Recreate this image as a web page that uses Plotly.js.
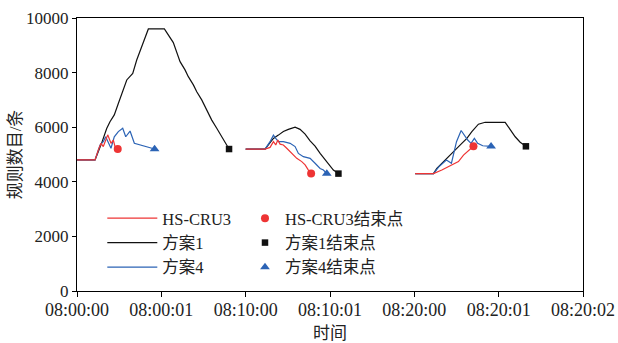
<!DOCTYPE html>
<html>
<head>
<meta charset="utf-8">
<script src="https://cdn.plot.ly/plotly-3.0.1.min.js"></script>
<style>html,body{margin:0;padding:0;background:#fff;}#chart{width:618px;height:343px;}</style>
</head>
<body>
<div id="chart"></div>
<script>
// x positions in tick-units (0 = 08:00:00 ... 6 = 08:20:02); null breaks segments
const tickLabels = ["08:00:00", "08:00:01", "08:10:00", "08:10:01", "08:20:00", "08:20:01", "08:20:02"];
const tickPos = [0, 1, 2, 3, 4, 5, 6];

const hsX = [0, 0.214, 0.253, 0.285, 0.312, 0.364, 0.403, 0.431, 0.451, 0.483, null,
  2.0, 2.23, 2.289, 2.329, 2.357, 2.381, 2.408, 2.447, 2.487, 2.547, 2.606, 2.665, 2.705, 2.744, 2.776, null,
  4.01, 4.227, 4.326, 4.444, 4.523, 4.583, 4.642, 4.701];
const hsY = [4800, 4800, 5170, 5410, 5290, 5720, 5410, 5530, 5290, 5200, null,
  5200, 5200, 5260, 5470, 5350, 5530, 5380, 5350, 5230, 5040, 4860, 4740, 4620, 4430, 4300, null,
  4300, 4300, 4430, 4620, 4740, 4980, 5130, 5300];

const p1X = [0, 0.214, 0.29, 0.332, 0.352, 0.391, 0.442, 0.490, 0.590, 0.661, 0.708, 0.846, 1.036, 1.142, 1.183, 1.222, 1.281, 1.320, 1.380, 1.420, 1.479, 1.539, 1.598, 1.657, 1.716, 1.803, null,
  2.0, 2.23, 2.269, 2.329, 2.388, 2.447, 2.506, 2.586, 2.645, 2.705, 2.764, 2.823, 2.883, 2.962, 3.040, 3.100, null,
  4.01, 4.227, 4.267, 4.326, 4.385, 4.444, 4.504, 4.563, 4.623, 4.682, 4.760, 4.840, 5.077, 5.136, 5.196, 5.255, 5.323];
const p1Y = [4800, 4800, 5400, 5770, 5950, 6200, 6450, 6870, 7730, 7970, 8460, 9600, 9600, 9100, 8700, 8400, 8100, 7850, 7550, 7300, 7000, 6630, 6260, 5960, 5650, 5200, null,
  5200, 5200, 5350, 5590, 5710, 5840, 5920, 6000, 5920, 5750, 5500, 5310, 5040, 4740, 4430, 4300, null,
  4300, 4300, 4490, 4680, 4860, 5040, 5230, 5410, 5590, 5840, 6110, 6180, 6180, 5900, 5650, 5450, 5300];

const p4X = [0, 0.214, 0.234, 0.273, 0.312, 0.340, 0.403, 0.442, 0.490, 0.542, 0.578, 0.629, 0.680, 0.92, null,
  2.0, 2.23, 2.289, 2.329, 2.357, 2.388, 2.447, 2.527, 2.586, 2.625, 2.684, 2.764, 2.823, 2.883, 2.922, 2.962, null,
  4.01, 4.227, 4.29, 4.38, 4.44, 4.50, 4.555, 4.593, 4.633, 4.672, 4.712, 4.751, 4.811, 4.91];
const p4Y = [4800, 4800, 4980, 5350, 5470, 5650, 5230, 5650, 5840, 5960, 5650, 5860, 5410, 5200, null,
  5200, 5200, 5470, 5710, 5590, 5470, 5470, 5410, 5290, 5040, 4920, 4860, 4680, 4490, 4430, 4300, null,
  4300, 4300, 4550, 4800, 4680, 5470, 5880, 5690, 5530, 5410, 5590, 5410, 5320, 5300];

const hsEndX = [0.483, 2.776, 4.701];
const hsEndY = [5200, 4300, 5300];
const p1EndX = [1.803, 3.100, 5.323];
const p1EndY = [5200, 4300, 5300];
const p4EndX = [0.92, 2.962, 4.91];
const p4EndY = [5200, 4300, 5300];

const RED = "#ee3434", BLACK = "#111111", BLUE = "#2b63b5";
const FONT = "'Liberation Serif', 'Noto Sans CJK SC', serif";

const traces = [
  {x: p1X, y: p1Y, mode: "lines", name: "方案1", line: {color: BLACK, width: 1.2}, legend: "legend", legendrank: 2},
  {x: p4X, y: p4Y, mode: "lines", name: "方案4", line: {color: BLUE, width: 1.2}, legend: "legend", legendrank: 3},
  {x: hsX, y: hsY, mode: "lines", name: "HS-CRU3", line: {color: RED, width: 1.2}, legend: "legend", legendrank: 1},
  {x: hsEndX, y: hsEndY, mode: "markers", name: "HS-CRU3结束点", marker: {color: RED, size: 8, symbol: "circle"}, legend: "legend2", legendrank: 1},
  {x: p1EndX, y: p1EndY, mode: "markers", name: "方案1结束点", marker: {color: BLACK, size: 6.5, symbol: "square"}, legend: "legend2", legendrank: 2},
  {x: p4EndX, y: p4EndY, mode: "markers", name: "方案4结束点", marker: {color: BLUE, size: 8.5, symbol: "triangle-up"}, legend: "legend2", legendrank: 3}
];

const legendBase = {
  orientation: "v", yanchor: "top", xanchor: "left", y: 0.33,
  bgcolor: "rgba(0,0,0,0)", font: {family: FONT, size: 16.5, color: "#222"},
  traceorder: "normal"
};

const layout = {
  width: 618, height: 343,
  margin: {l: 77, r: 35, t: 18, b: 52},
  paper_bgcolor: "#fff", plot_bgcolor: "#fff",
  font: {family: FONT, size: 16, color: "#222"},
  showlegend: true,
  legend: Object.assign({}, legendBase, {x: 0.05, itemwidth: 50}),
  legend2: Object.assign({}, legendBase, {x: 0.332, itemwidth: 30}),
  xaxis: {
    range: [0, 6], tickvals: tickPos, ticktext: tickLabels,
    showgrid: false, zeroline: false, showline: true, linecolor: "#000", linewidth: 1.2,
    mirror: true, ticks: "outside", ticklen: 5, tickcolor: "#000", ticklabelstandoff: -3,
    tickfont: {family: FONT, size: 18, color: "#222"},
    title: {text: "时间", font: {family: FONT, size: 17, color: "#222"}, standoff: 14}
  },
  yaxis: {
    range: [0, 10000], dtick: 2000, tick0: 0, tickformat: "d",
    showgrid: false, zeroline: false, showline: true, linecolor: "#000", linewidth: 1.2,
    mirror: true, ticks: "outside", ticklen: 4, tickcolor: "#000",
    tickfont: {family: FONT, size: 17, color: "#222"},
    title: {text: "规则数目/条", font: {family: FONT, size: 17, color: "#222"}, standoff: 0}
  }
};

Plotly.newPlot("chart", traces, layout, {displayModeBar: false, staticPlot: true});
</script>
</body>
</html>
